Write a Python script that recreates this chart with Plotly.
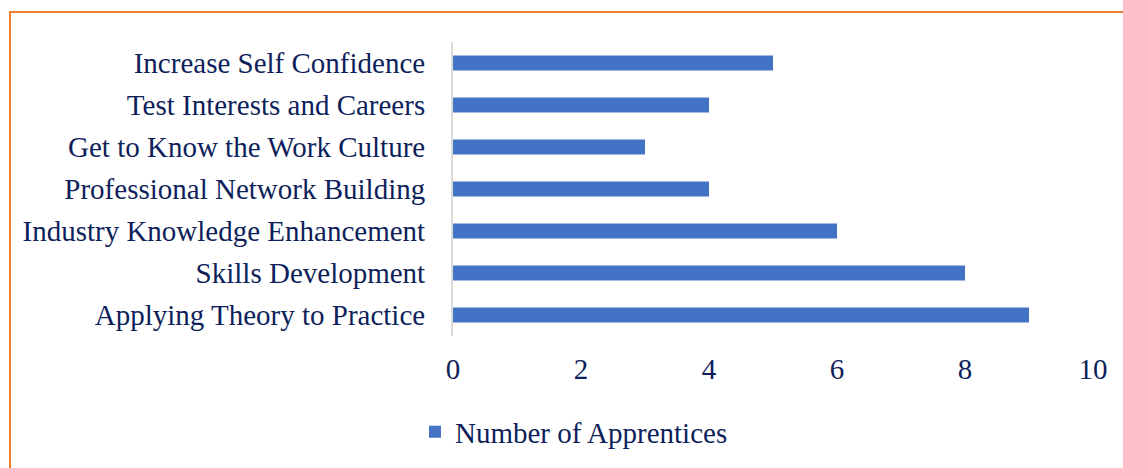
import plotly.graph_objects as go

categories = [
    "Applying Theory to Practice",
    "Skills Development",
    "Industry Knowledge Enhancement",
    "Professional Network Building",
    "Get to Know the Work Culture",
    "Test Interests and Careers",
    "Increase Self Confidence",
]
values = [9, 8, 6, 4, 3, 4, 5]
series_name = "Number of Apprentices"
x_ticks = [0, 2, 4, 6, 8, 10]

FONT = "Liberation Serif"
TXT = "#0e1f5b"
FS = 29

fig = go.Figure(
    go.Bar(
        y=categories, x=values, orientation="h", name=series_name,
        marker=dict(color="#4472C4", line=dict(width=0)),
        showlegend=True,
    )
)

L, R, T, B = 453, 30, 42, 132
W, H = 1123, 468
pw, ph = W - L - R, H - T - B

def px(x):
    return (x - L) / pw

def py(y):
    return (H - B - y) / ph

fig.update_layout(
    width=W, height=H,
    margin=dict(l=L, r=R, t=T, b=B, autoexpand=False),
    paper_bgcolor="white", plot_bgcolor="white",
    font=dict(family=FONT, size=FS, color=TXT),
    bargap=0.64,
    showlegend=True,
    legend=dict(orientation="h", x=px(415), y=py(432), xanchor="left", yanchor="middle",
                font=dict(family=FONT, size=FS, color=TXT), itemsizing="constant"),
    xaxis=dict(range=[0, 10], tickvals=x_ticks, showgrid=False, zeroline=False,
               showline=False, ticks="", ticklabelstandoff=13),
    yaxis=dict(showgrid=False, zeroline=False, showline=True, linecolor="#d9d9d9",
               linewidth=2, ticks="", ticklabelstandoff=20,
               categoryorder="array", categoryarray=categories),
    shapes=[
        dict(type="line", xref="paper", yref="paper", x0=px(10), x1=px(10), y0=py(12), y1=py(470),
             line=dict(color="#ED7D31", width=2)),
        dict(type="line", xref="paper", yref="paper", x0=px(9), x1=px(1125), y0=py(12), y1=py(12),
             line=dict(color="#ED7D31", width=2)),
    ],
)

fig.write_html("out.html", config={"displayModeBar": False},
               post_script="document.body.style.margin='0';")
